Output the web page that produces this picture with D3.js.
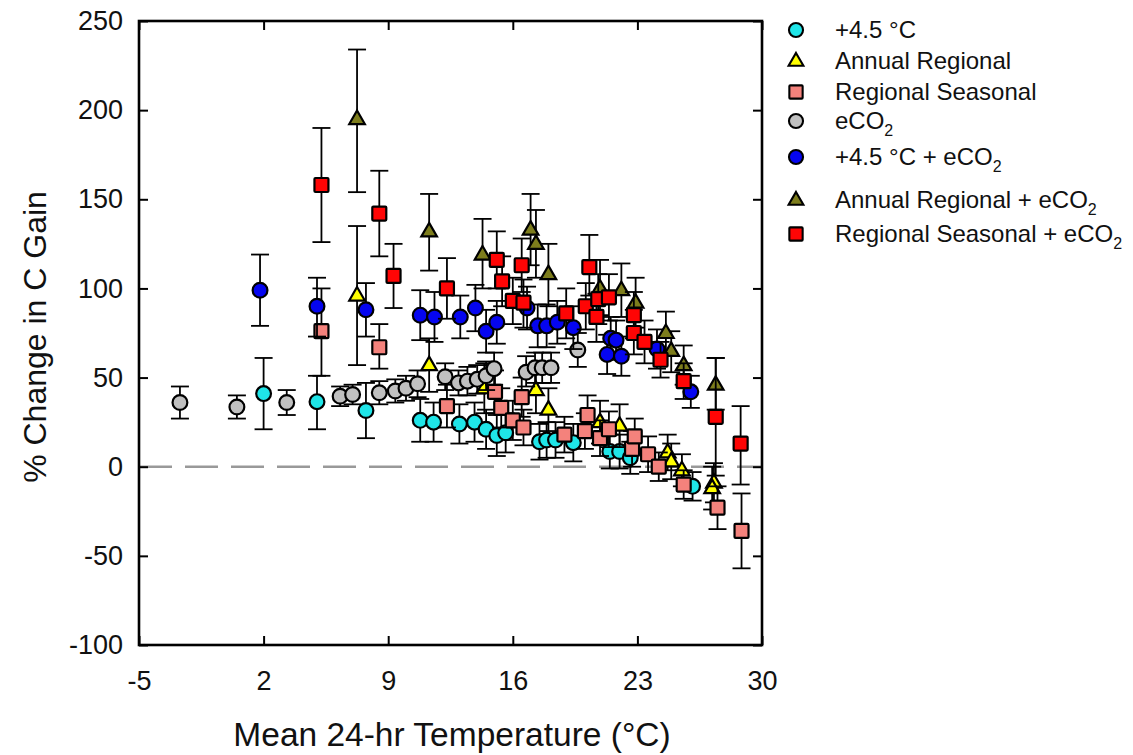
<!DOCTYPE html>
<html><head><meta charset="utf-8">
<script src="https://cdn.jsdelivr.net/npm/d3@7"></script>
<style>
body{margin:0;background:#fff}
text{font-family:"Liberation Sans",Arial,Helvetica,sans-serif;fill:#111}
</style>
</head><body>
<svg id="chart" width="1133" height="755"></svg>
<script>
// ---------- data ----------
const xTicks = [-5, 2, 9, 16, 23, 30];
const yTicks = [-100, -50, 0, 50, 100, 150, 200, 250];
const xTitle = "Mean 24-hr Temperature (°C)";
const yTitle = "% Change in C Gain";

// each row: [mean temperature, % change, lower error, upper error]
const warm = [[2.0,41,21,61],[5.0,36.5,21,51],[7.75,31.5,16,47],[10.8,26,14,38],[11.55,25,14,36],[13.0,24,13,35],[13.85,25,14,36],[14.5,21,10,32],[15.1,17.5,6,29],[15.6,19,8,30],[17.5,14,4,24],[17.9,15,5,25],[18.4,15,5,25],[19.4,13.5,3,24],[21.45,8.5,-1,18],[22.0,8.5,-1,18],[22.6,5,-4,14],[26.1,-11,-19,-3]];
const annual = [[7.25,96,57,135],[11.3,57,42,72],[14.4,44,30,58],[17.3,43,30,56],[18.0,32,20,44],[20.9,25,13,37],[22.0,23,11,35],[24.7,8,-2,18],[24.9,3,-7,13],[25.5,-2,-11,7],[27.3,-9,-20,2],[27.2,-12,-24,0]];
const seasonal = [[5.25,76,51,100],[8.5,67,55,80],[12.3,34,22,46],[15.0,42,30,54],[15.35,33,22,44],[16.0,26,15,37],[16.5,39,28,50],[16.6,22,12,32],[18.9,18,8,28],[20.05,20,10,30],[20.2,29,18,40],[20.9,16,6,26],[21.4,21,11,31],[22.7,10,0,20],[22.85,17,7,27],[23.6,7,-3,17],[24.2,0,-8,8],[25.6,-10,-18,-2],[27.5,-23,-35,-11],[28.85,-36,-57,-15]];
const eco2 = [[-2.7,36,27,45],[0.5,33.5,27,40],[3.3,36,29,43],[6.3,39.5,34,45],[7.0,40.5,35,46],[8.5,41.5,35,48],[9.4,42.5,36,49],[10.0,44,37,51],[10.65,46.5,39,54],[12.2,50.5,43,58],[12.95,47,40,54],[13.45,48,40,56],[14.0,49,41,57],[14.5,51,43,59],[14.95,55,46,64],[16.75,53,45,62],[17.25,55.5,47,64],[17.65,55.5,47,64],[18.15,55.5,47,64],[19.65,65.5,56,75]];
const warmCo2 = [[1.8,99,79,119],[5.0,90,73,106],[7.75,88,73,103],[10.8,85,71,99],[11.6,84,70,98],[13.05,84,72,96],[13.9,89,76,102],[14.5,76,64,88],[15.1,81,69,93],[16.8,89,77,101],[17.4,79,67,91],[17.9,79,67,91],[18.5,81,69,93],[19.4,78,66,90],[21.5,72,61,84],[21.8,71,60,82],[21.3,63,52,74],[22.1,62,51,73],[24.1,66,55,77],[26.0,42,33,51]];
const annualCo2 = [[7.25,195,154,234],[11.3,132,110,153],[14.3,119,100,139],[17.0,133,113,153],[17.3,125,106,144],[18.0,108,90,125],[20.9,100,85,116],[22.1,99,84,114],[22.9,92,78,106],[24.6,75,63,87],[24.9,65,53,76],[25.6,57,46,68],[27.4,46,32,61]];
const seasonalCo2 = [[5.25,158,126,190],[8.5,142,118,166],[9.3,107,89,125],[12.3,100,83,117],[15.1,116,100,132],[15.4,104,90,118],[16.5,113,98,128],[16.0,93,80,106],[16.6,92,78,105],[19.0,86,72,100],[20.1,90,77,103],[20.3,112,96,130],[20.7,84,70,97],[20.8,94,80,108],[21.4,95,82,108],[22.8,85,72,98],[22.8,75,63,88],[23.4,70,58,82],[24.3,60,50,70],[25.6,48,38,58],[27.4,28,-5,61],[28.8,13,-10,34]];

const seriesNames = ["+4.5 °C", "Annual Regional", "Regional Seasonal", "eCO", "+4.5 °C + eCO", "Annual Regional + eCO", "Regional Seasonal + eCO"];
const seriesSub = ["", "", "", "2", "2", "2", "2"];
const seriesData = [warm, annual, seasonal, eco2, warmCo2, annualCo2, seasonalCo2];
const seriesShape = ["circle", "triangle", "square", "circle", "circle", "triangle", "square"];
const seriesColor = ["#1FE5E8", "#FFFF00", "#F4827C", "#C0C0C0", "#0505F0", "#7D7D1C", "#FF0505"];

// ---------- layout ----------
const svg = d3.select("#chart");
const L = 139, R = 762, T = 21, B = 645;
const x = d3.scaleLinear().domain([-5, 30]).range([L, R]);
const y = d3.scaleLinear().domain([-100, 250]).range([B, T]);

// zero reference line
svg.append("line")
  .attr("x1", L).attr("x2", R).attr("y1", y(0)).attr("y2", y(0))
  .attr("stroke", "#999").attr("stroke-width", 2.6).attr("stroke-dasharray", "33,13");

function styleAxis(g, labels) {
  g.select(".domain").remove();
  g.selectAll(".tick line").attr("stroke", "#000").attr("stroke-width", 2);
  if (!labels) g.selectAll(".tick text").remove();
  else g.selectAll(".tick text").attr("font-size", 27).attr("fill", "#111")
         .style("font-family", '"Liberation Sans", Arial, sans-serif');
}
const tick = -9;
const fmt = d => String(d);
svg.append("g").attr("transform", `translate(0,${B})`)
  .call(d3.axisBottom(x).tickValues(xTicks).tickSizeInner(tick).tickSizeOuter(0).tickPadding(26).tickFormat(fmt))
  .call(g => styleAxis(g, true));
svg.append("g").attr("transform", `translate(0,${T})`)
  .call(d3.axisTop(x).tickValues(xTicks).tickSizeInner(tick).tickSizeOuter(0))
  .call(g => styleAxis(g, false));
svg.append("g").attr("transform", `translate(${L},0)`)
  .call(d3.axisLeft(y).tickValues(yTicks).tickSizeInner(tick).tickSizeOuter(0).tickPadding(16).tickFormat(fmt))
  .call(g => styleAxis(g, true));
svg.append("g").attr("transform", `translate(${R},0)`)
  .call(d3.axisRight(y).tickValues(yTicks).tickSizeInner(tick).tickSizeOuter(0))
  .call(g => styleAxis(g, false));

// frame
svg.append("rect").attr("x", L).attr("y", T).attr("width", R - L).attr("height", B - T)
  .attr("fill", "none").attr("stroke", "#000").attr("stroke-width", 2.6);

// axis titles
svg.append("text").attr("x", 452).attr("y", 746).attr("text-anchor", "middle")
  .attr("font-size", 33.5).text(xTitle);
svg.append("text").attr("transform", `translate(46,${337}) rotate(-90)`).attr("text-anchor", "middle")
  .attr("font-size", 32).text(yTitle);

// markers
function drawMarker(g, shape, color) {
  if (shape === "circle") {
    g.append("circle").attr("r", 7.4).attr("fill", color).attr("stroke", "#000").attr("stroke-width", 2.2);
  } else if (shape === "square") {
    g.append("rect").attr("x", -7).attr("y", -7).attr("width", 14).attr("height", 14).attr("rx", 1)
      .attr("fill", color).attr("stroke", "#000").attr("stroke-width", 2.2);
  } else {
    g.append("path").attr("d", "M0,-8.5L7.8,5L-7.8,5Z")
      .attr("fill", color).attr("stroke", "#000").attr("stroke-width", 2.2).attr("stroke-linejoin", "miter");
  }
}

const cap = 9;
seriesData.forEach((data, i) => {
  const g = svg.append("g");
  const eb = g.append("g").attr("stroke", "#000").attr("stroke-width", 1.8);
  data.forEach(d => {
    eb.append("line").attr("x1", x(d[0])).attr("x2", x(d[0])).attr("y1", y(d[2])).attr("y2", y(d[3]));
    eb.append("line").attr("x1", x(d[0]) - cap).attr("x2", x(d[0]) + cap).attr("y1", y(d[2])).attr("y2", y(d[2]));
    eb.append("line").attr("x1", x(d[0]) - cap).attr("x2", x(d[0]) + cap).attr("y1", y(d[3])).attr("y2", y(d[3]));
  });
  data.forEach(d => {
    const m = g.append("g").attr("transform", `translate(${x(d[0])},${y(d[1])})`);
    drawMarker(m, seriesShape[i], seriesColor[i]);
  });
});

// legend
const legBase = [38, 69, 100, 129, 165, 208, 242];
seriesNames.forEach((name, i) => {
  const m = svg.append("g").attr("transform", `translate(796,${legBase[i] - 8}) scale(0.95)`);
  drawMarker(m, seriesShape[i], seriesColor[i]);
  const t = svg.append("text").attr("x", 835).attr("y", legBase[i]).attr("font-size", 24).text(name);
  if (seriesSub[i]) t.append("tspan").attr("font-size", 16).attr("dy", 7).text(seriesSub[i]);
});
</script>
</body></html>
